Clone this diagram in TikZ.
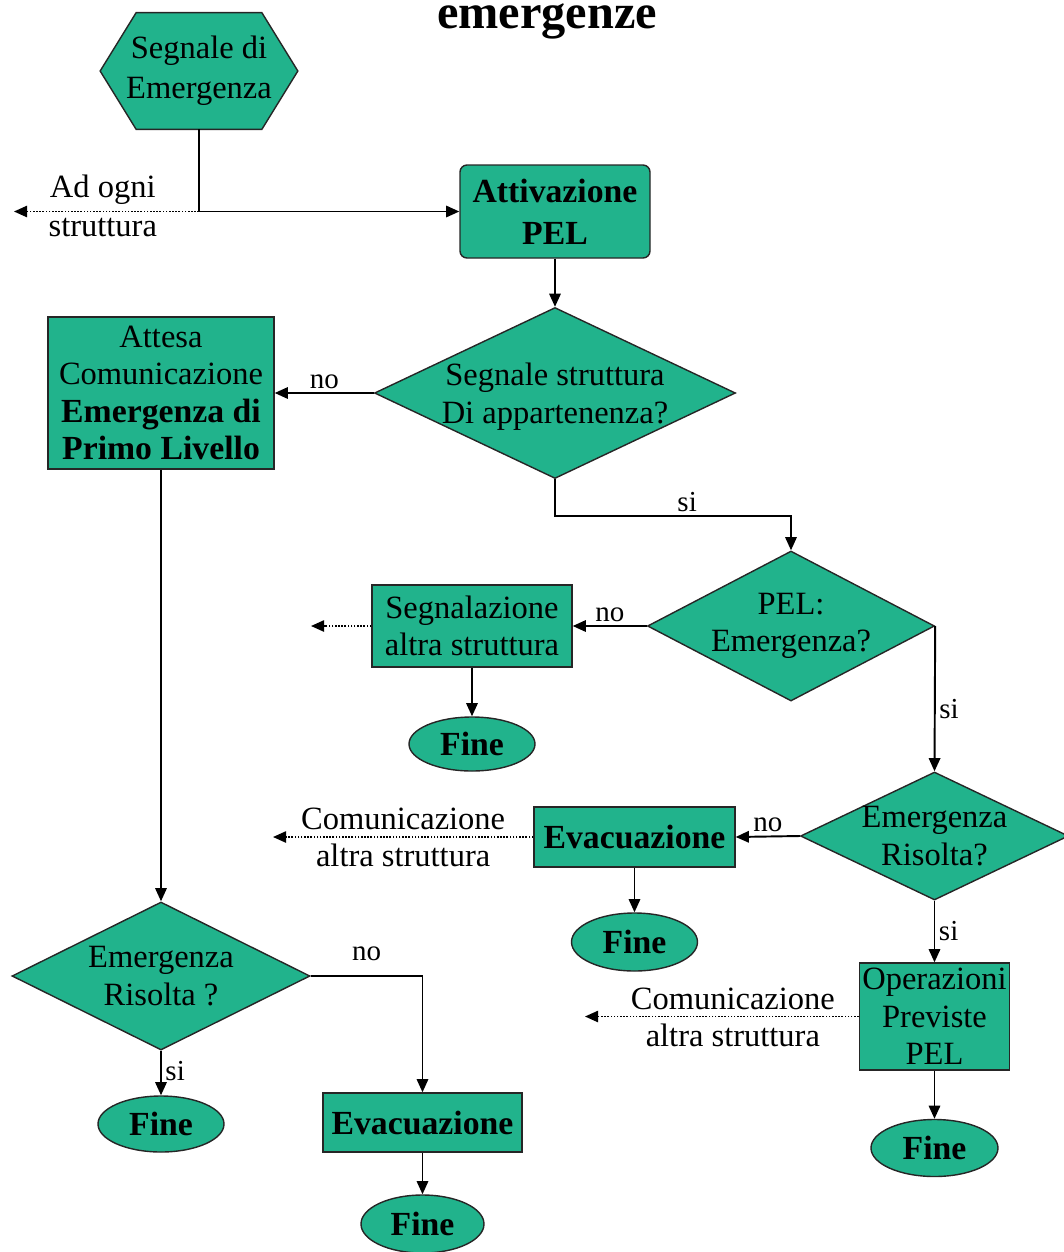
\documentclass[tikz,border=0pt]{standalone}
\usepackage{fontspec}
\setmainfont{Liberation Serif}
\usetikzlibrary{shapes.geometric,arrows.meta,calc,backgrounds}
\definecolor{flowgreen}{HTML}{21B38C}
\newcommand\rfont{\fontsize{18.5pt}{21.3pt}\selectfont}
\newcommand\bfont{\fontsize{19.2pt}{21.3pt}\selectfont\bfseries}
\newcommand\lfont{\fontsize{16.5pt}{19pt}\selectfont}
\tikzset{
  wh/.style 2 args={minimum width=#1*0.02cm, minimum height=#2*0.02cm},
  shp/.style={draw=black!85, line width=0.8pt, fill=flowgreen, inner sep=0pt, align=center, text=black},
  boxs/.style={shp, rectangle},
  rbox/.style={shp, rectangle, rounded corners=4pt},
  diam/.style={shp, diamond},
  ell/.style={shp, ellipse, font=\bfont},
  dtxt/.style={align=center, font=\rfont, inner sep=0pt, text=black},
  arr/.style={line width=1.1pt, -{Triangle[length=7.5pt,width=6.5pt]}},
  dotarr/.style={line width=0.9pt, dash pattern=on 0.9pt off 0.9pt, -{Triangle[length=7.5pt,width=6.5pt]}},
  lbl/.style={font=\lfont, inner sep=2pt},
  side/.style={font=\rfont, inner sep=3.5pt, align=center},
  hexshape/.style={draw=black!85, line width=0.8pt, fill=flowgreen},
}
\begin{document}
\begin{tikzpicture}[x=0.02cm,y=-0.02cm]
\useasboundingbox (0,0) rectangle (1063,1252);

% title
\node[font=\fontsize{27.5pt}{30pt}\selectfont\bfseries, anchor=base, inner sep=0pt] (title) at (547,28) {emergenze};

% hexagon
\node[rectangle, wh={197}{116}, font=\rfont, align=center, inner sep=0pt] (sig) at (199,71) {Segnale di\\[1.5pt]Emergenza};
\begin{scope}[on background layer]
\filldraw[hexshape] (sig.west) -- ($(sig.north west)+(36,0)$) -- ($(sig.north east)+(-36,0)$) -- (sig.east) -- ($(sig.south east)+(-36,0)$) -- ($(sig.south west)+(36,0)$) -- cycle;
\end{scope}

% boxes
\node[rbox, wh={190}{93}, font=\bfont] (att) at (555,211.5) {Attivazione\\[2.5pt]PEL};
\node[boxs, wh={226}{152}, font=\rfont] (wait) at (161,393) {Attesa\\Comunicazione\\\textbf{\fontsize{19.2pt}{21.3pt}\selectfont Emergenza di}\\\textbf{\fontsize{19.2pt}{21.3pt}\selectfont Primo Livello}};
\node[boxs, wh={200}{82}, font=\rfont] (seg) at (472,626) {Segnalazione\\altra struttura};
\node[boxs, wh={201}{60}, font=\bfont] (ev1) at (634.5,837) {Evacuazione};
\node[boxs, wh={150}{107}, font=\rfont] (ops) at (934.5,1016.5) {Operazioni\\Previste\\PEL};
\node[boxs, wh={199}{59}, font=\bfont] (ev2) at (422.5,1122.5) {Evacuazione};

% diamonds
\node[diam, wh={361}{171}, label={[dtxt, yshift=-2pt]center:{Segnale struttura\\Di appartenenza?}}] (d1) at (555,393) {};
\node[diam, wh={287}{150}, label={[dtxt]center:{PEL:\\Emergenza?}}] (d2) at (791,626) {};
\node[diam, wh={268}{128}, label={[dtxt]center:{Emergenza\\Risolta?}}] (d3) at (934.5,836) {};
\node[diam, wh={298}{148}, label={[dtxt]center:{Emergenza\\Risolta ?}}] (d4) at (161,976) {};

% ellipses
\node[ell, wh={126}{54}] (f1) at (472,744) {Fine};
\node[ell, wh={126}{58}] (f2) at (634.5,942) {Fine};
\node[ell, wh={127}{57}] (f3) at (934.5,1148) {Fine};
\node[ell, wh={126}{56}] (f4) at (161,1124) {Fine};
\node[ell, wh={123}{58}] (f5) at (422.5,1224) {Fine};

% connectors
\draw[arr] (sig.south) |- (att.west);
\coordinate (j0) at (sig.south |- att.west);
\coordinate (e0) at (14,211.5);
\draw[dotarr] (j0) -- node[side, above, pos=0.52]{Ad ogni} node[side, below, pos=0.52]{struttura} (e0);
\draw[arr] (att.south) -- (d1.north);
\draw[arr] (d1.west) -- node[lbl, above]{no} (wait.east);
\draw[arr] (d1.south) -- ++(0,37) -| node[lbl, above, pos=0.28]{si} (d2.north);
\draw[arr] (d2.west) -- node[lbl, above]{no} (seg.east);
\coordinate (e1) at (311,626);
\draw[dotarr] (seg.west) -- (e1);
\draw[arr] (seg.south) -- (f1.north);
\draw[arr] (d2.east) -- node[lbl, right, pos=0.57]{si} (d3.north);
\draw[arr] (d3.west) -- node[lbl, above]{no} (ev1.east);
\coordinate (e2) at (273,837);
\draw[dotarr] (ev1.west) -- node[side, above]{Comunicazione} node[side, below]{altra struttura} (e2);
\draw[arr] (ev1.south) -- (f2.north);
\draw[arr] (d3.south) -- node[lbl, right]{si} (ops.north);
\coordinate (e3) at (585,1016.5);
\draw[dotarr] (ops.west) -- node[side, above, pos=0.46]{Comunicazione} node[side, below, pos=0.46]{altra struttura} (e3);
\draw[arr] (ops.south) -- (f3.north);
\draw[arr] (wait.south) -- (d4.north);
\draw[arr] (d4.south) -- node[lbl, right, pos=0.45]{si} (f4.north);
\draw[arr] (d4.east) -| node[lbl, above=6pt, pos=0.25]{no} (ev2.north);
\draw[arr] (ev2.south) -- (f5.north);
\end{tikzpicture}
\end{document}
